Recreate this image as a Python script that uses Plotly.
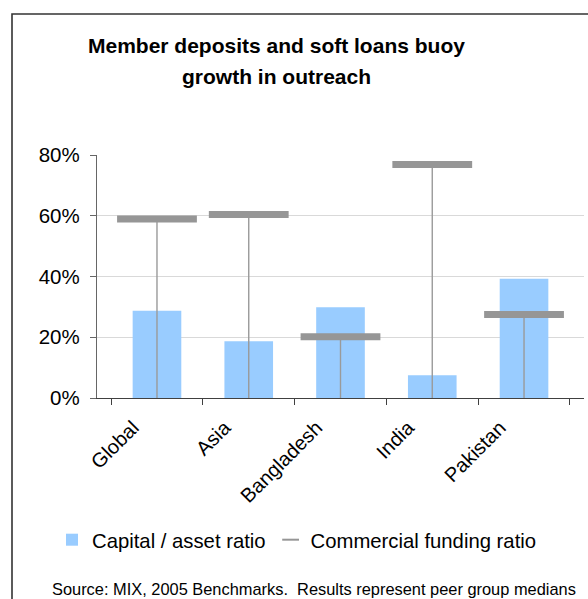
import plotly.graph_objects as go

categories = ["Global", "Asia", "Bangladesh", "India", "Pakistan"]
capital_asset = [0.287, 0.187, 0.299, 0.075, 0.393]
commercial_funding = [0.589, 0.604, 0.202, 0.769, 0.275]
y_ticks = [0, 0.2, 0.4, 0.6, 0.8]
y_tick_labels = ["0%", "20%", "40%", "60%", "80%"]

W, H = 588, 599
L, R, T, B = 97, 4, 155, 201
PW, PH = W - L - R, H - T - B

def px_x(p):
    return (p - L) / PW

def px_y(p):
    return (H - B - p) / PH

FONT = "Liberation Sans, Arial, sans-serif"

fig = go.Figure()
fig.add_trace(go.Bar(
    x=categories, y=capital_asset, name="Capital / asset ratio",
    marker=dict(color="#99CCFF", line=dict(width=0)), width=0.53,
))
fig.add_trace(go.Scatter(
    x=categories, y=commercial_funding, name="Commercial funding ratio",
    mode="markers",
    marker=dict(symbol="line-ew", size=57, color="#969696",
                line=dict(color="#969696", width=7)),
    error_y=dict(type="data", symmetric=False, array=[0] * len(categories),
                 arrayminus=commercial_funding, width=0, thickness=1.4,
                 color="#9a9a9a"),
))

fig.update_layout(
    width=W, height=H,
    margin=dict(l=L, r=R, t=T, b=B, autoexpand=False),
    paper_bgcolor="white", plot_bgcolor="white",
    font=dict(family=FONT, size=20, color="black"),
    showlegend=True,
    legend=dict(orientation="h", x=px_x(297), y=px_y(540), xanchor="center",
                yanchor="middle", font=dict(size=20.3), bgcolor="rgba(0,0,0,0)",
                itemsizing="constant", itemwidth=30, tracegroupgap=0),
    xaxis=dict(type="category", tickangle=-45, showline=True, linecolor="#404040",
               linewidth=1.3, ticks="outside", tickson="boundaries", ticklen=6,
               tickcolor="#404040", showgrid=False, tickfont=dict(size=20),
               ticklabelshift=-24, ticklabelstandoff=9),
    yaxis=dict(range=[0, 0.8], tickvals=y_ticks, ticktext=y_tick_labels,
               showline=True, linecolor="#666666", linewidth=1.3, ticks="outside",
               ticklen=6, tickcolor="#666666", showgrid=True, gridcolor="#d9d9d9",
               gridwidth=1, zeroline=False, tickfont=dict(size=20.5),
               ticklabelstandoff=6),
    shapes=[dict(type="rect", xref="paper", yref="paper",
                 x0=px_x(12), x1=px_x(640), y0=px_y(14), y1=px_y(650),
                 line=dict(color="#333333", width=1.6), layer="below")],
    annotations=[
        dict(text="<b>Member deposits and soft loans buoy</b>", xref="paper", yref="paper",
             x=px_x(276), y=px_y(46), xanchor="center", yanchor="middle",
             showarrow=False, font=dict(size=21)),
        dict(text="<b>growth in outreach</b>", xref="paper", yref="paper",
             x=px_x(276), y=px_y(77), xanchor="center", yanchor="middle",
             showarrow=False, font=dict(size=21)),
        dict(text="Source: MIX, 2005 Benchmarks.  Results represent peer group medians",
             xref="paper", yref="paper", x=px_x(314), y=px_y(589),
             xanchor="center", yanchor="middle", showarrow=False,
             font=dict(size=16.4)),
    ],
)

fig.write_html("out.html")
